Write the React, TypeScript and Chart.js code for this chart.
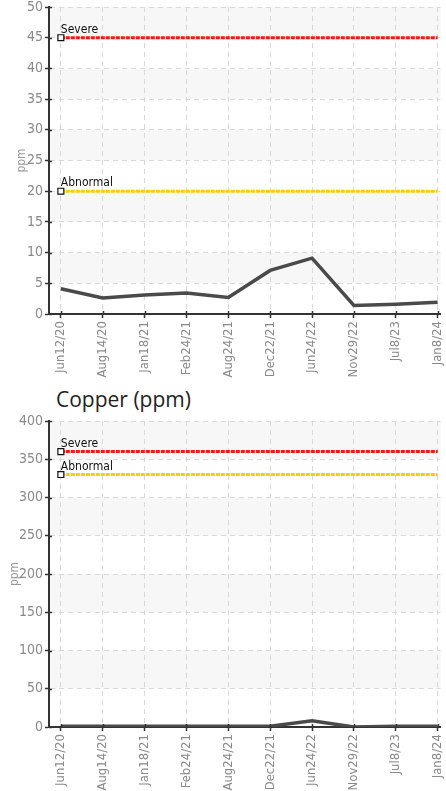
import React, { useEffect, useRef } from 'react';
import { Chart, registerables } from 'chart.js';

Chart.register(...registerables);

// ---- data ----
const categories = ['Jun12/20', 'Aug14/20', 'Jan18/21', 'Feb24/21', 'Aug24/21', 'Dec22/21', 'Jun24/22', 'Nov29/22', 'Jul8/23', 'Jan8/24'];
const topValues = [4.1, 2.6, 3.1, 3.4, 2.7, 7.1, 9.1, 1.4, 1.6, 1.9];
const copperValues = [1, 1, 1, 1, 1, 1, 8, 0, 1, 1];
const topLimits = [45, 20]; // severe, abnormal
const copperLimits = [360, 330]; // severe, abnormal
const limitNames = ['Severe', 'Abnormal'];
const topYRange = [0, 50, 5];
const copperYRange = [0, 400, 50];
const copperTitle = 'Copper (ppm)';
const yTitle = 'ppm';

const NARROW = '"Liberation Sans Narrow", "DejaVu Sans Condensed", "Roboto Condensed", "Liberation Sans", sans-serif';
const limitColors = ['#ff1414', '#ffcc00'];

const bandPlugin = {
  id: 'bands',
  beforeDraw(chart: any) {
    const { ctx, chartArea, scales } = chart;
    const y = scales.y;
    const ticks = y.ticks;
    ctx.save();
    ctx.fillStyle = '#f7f7f7';
    for (let k = 1; k < ticks.length - 1; k += 2) {
      const top = y.getPixelForValue(ticks[k + 1].value);
      const bottom = y.getPixelForValue(ticks[k].value);
      ctx.fillRect(chartArea.left, top, chartArea.right - chartArea.left, bottom - top);
    }
    ctx.restore();
  },
};

// small tick marks reaching a little inside the plot, crossing the axis lines
const innerTickPlugin = {
  id: 'innerTicks',
  afterDraw(chart: any) {
    const { ctx, chartArea, scales } = chart;
    ctx.save();
    ctx.strokeStyle = '#333';
    ctx.lineWidth = 1.5;
    ctx.beginPath();
    scales.x.ticks.forEach((t: any) => {
      const px = Math.round(scales.x.getPixelForValue(t.value)) + 0.5;
      ctx.moveTo(px, chartArea.bottom);
      ctx.lineTo(px, chartArea.bottom - 3);
    });
    scales.y.ticks.forEach((t: any) => {
      const py = Math.round(scales.y.getPixelForValue(t.value)) + 0.5;
      ctx.moveTo(chartArea.left, py);
      ctx.lineTo(chartArea.left + 3, py);
    });
    ctx.stroke();
    ctx.restore();
  },
};

const limitLabelPlugin = {
  id: 'limitLabels',
  afterDatasetsDraw(chart: any) {
    const { ctx } = chart;
    chart.data.datasets.forEach((ds: any, i: number) => {
      if (!ds.isLimit) return;
      const meta = chart.getDatasetMeta(i);
      const pt = meta.data[0];
      if (!pt) return;
      ctx.save();
      ctx.font = `12px ${NARROW}`;
      ctx.fillStyle = '#111111';
      ctx.textAlign = 'left';
      ctx.textBaseline = 'alphabetic';
      ctx.fillText(ds.label, pt.x, pt.y - 5);
      ctx.restore();
    });
  },
};

function makeConfig(values: number[], limits: number[], yRange: number[], xHeight: number, titlePad: number) {
  const datasets: any[] = [
    {
      label: 'value',
      data: values.map((v, i) => ({ x: i, y: v })),
      borderColor: '#4a4a4a',
      borderWidth: 3.5,
      pointRadius: 0,
      tension: 0,
    },
  ];
  limits.forEach((lim, j) => {
    datasets.push({
      label: limitNames[j],
      isLimit: true,
      data: categories.map((_, i) => ({ x: i, y: lim })),
      borderColor: limitColors[j],
      borderWidth: 3,
      borderDash: [4, 1],
      pointStyle: 'rect',
      pointRadius: (c: any) => (c.dataIndex === 0 ? 4.2 : 0),
      pointBackgroundColor: '#ffffff',
      pointBorderColor: '#111111',
      pointBorderWidth: 1.2,
      tension: 0,
    });
  });
  return {
    type: 'line' as const,
    data: { datasets },
    plugins: [bandPlugin, limitLabelPlugin, innerTickPlugin],
    options: {
      responsive: false,
      animation: false as const,
      devicePixelRatio: 1,
      layout: { padding: { top: 7, left: 0, right: 0, bottom: 0 } },
      plugins: { legend: { display: false }, tooltip: { enabled: false }, title: { display: false } },
      scales: {
        x: {
          type: 'linear' as const,
          min: -0.283,
          max: 9.071,
          afterBuildTicks: (axis: any) => {
            axis.ticks = categories.map((_, i) => ({ value: i }));
          },
          afterFit: (s: any) => {
            s.height = xHeight;
            s.paddingLeft = 0;
            s.paddingRight = 0;
          },
          ticks: {
            autoSkip: false,
            minRotation: 90,
            maxRotation: 90,
            padding: 3,
            color: '#8a8a8a',
            font: { family: NARROW, size: 13 },
            callback: (v: any) => categories[v] ?? '',
          },
          grid: { color: '#d9d9d9', lineWidth: 1, tickLength: 4, tickColor: '#333', tickWidth: 1.5 },
          border: { color: '#333', width: 2, dash: [5, 4] },
        },
        y: {
          type: 'linear' as const,
          min: yRange[0],
          max: yRange[1],
          afterFit: (s: any) => {
            s.width = 49;
            s.paddingTop = 0;
            s.paddingBottom = 0;
          },
          ticks: {
            stepSize: yRange[2],
            padding: 2,
            color: '#8a8a8a',
            font: { family: NARROW, size: 14 },
          },
          title: {
            display: true,
            text: yTitle,
            color: '#9a9a9a',
            font: { family: NARROW, size: 12 },
            padding: { top: titlePad, bottom: 0 },
          },
          grid: { color: '#d9d9d9', lineWidth: 1, tickLength: 4, tickColor: '#333', tickWidth: 1.5 },
          border: { color: '#333', width: 2, dash: [5, 4] },
        },
      },
    },
  };
}

function LimitChart(props: { values: number[]; limits: number[]; yRange: number[]; top: number; height: number; titlePad: number }) {
  const ref = useRef<HTMLCanvasElement>(null);
  useEffect(() => {
    const chart = new Chart(
      ref.current as HTMLCanvasElement,
      makeConfig(props.values, props.limits, props.yRange, 64, props.titlePad) as any
    );
    return () => chart.destroy();
  }, []);
  return (
    <canvas
      ref={ref}
      width={446}
      height={props.height}
      style={{ position: 'absolute', left: 0, top: props.top, width: 446, height: props.height }}
    />
  );
}

export default function App() {
  return (
    <div
      style={{
        position: 'fixed',
        left: 0,
        top: 0,
        width: 446,
        height: 791,
        overflow: 'hidden',
        background: '#ffffff',
      }}
    >
      <LimitChart values={topValues} limits={topLimits} yRange={topYRange} top={0} height={378} titlePad={15} />
      <div
        style={{
          position: 'absolute',
          left: 56,
          top: 385,
          fontFamily: '"Open Sans", "Noto Sans", sans-serif',
          fontSize: 21,
          lineHeight: '29px',
          color: '#222',
          whiteSpace: 'nowrap',
        }}
      >
        {copperTitle}
      </div>
      <LimitChart values={copperValues} limits={copperLimits} yRange={copperYRange} top={414} height={377} titlePad={8} />
    </div>
  );
}
